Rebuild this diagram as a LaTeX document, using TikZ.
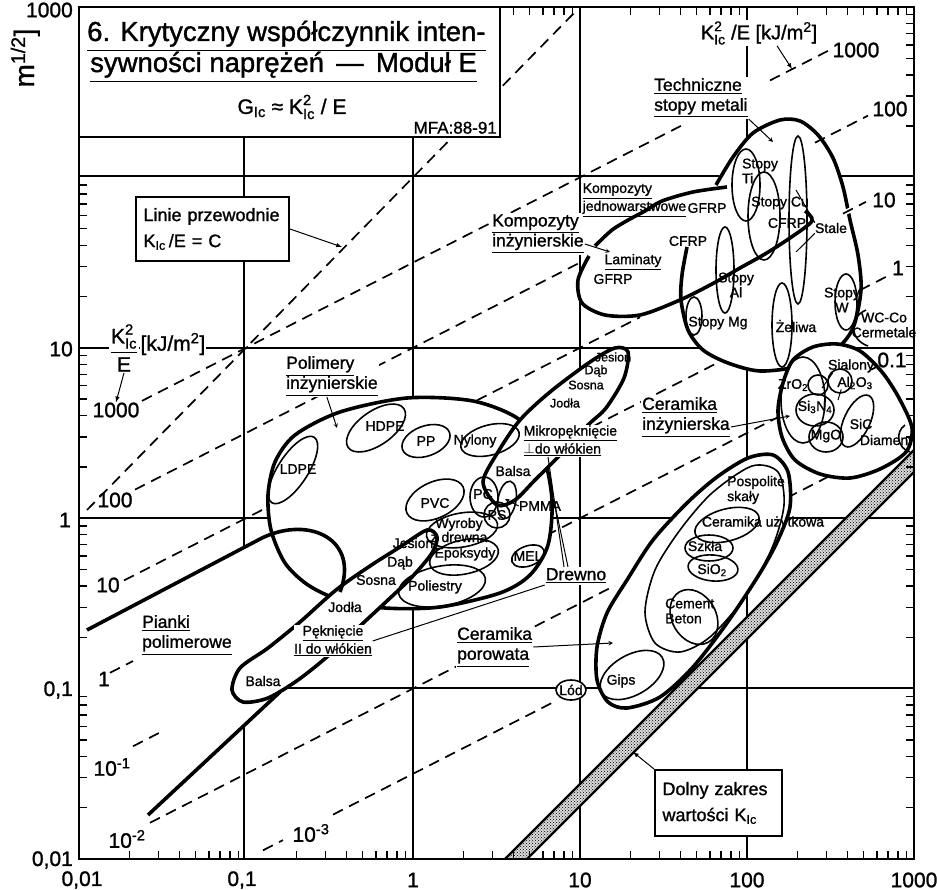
\documentclass[tikz,border=0pt]{standalone}
\usepackage{amsmath}
\usepackage{fontspec}
\setmainfont{Liberation Sans}[FakeBold=1.2]
\usetikzlibrary{positioning}
\usetikzlibrary{arrows}
\usetikzlibrary{patterns}

\newcommand{\Kic}{K\textsubscript{Ic}}
\newcommand{\Kicsq}{\ensuremath{\text{K}^{\text{2}}_{\text{Ic}}}}
% K^2/E = 10^c guide line between two x positions
\newcommand{\kline}[3]{\draw[guideline] ({#2},{688.6-85.2*(#1)-0.5102*((#2)-79)}) -- ({#3},{688.6-85.2*(#1)-0.5102*((#3)-79)});}

\begin{document}
\begin{tikzpicture}[x=1pt, y=-1pt,
gridline/.style={line width=1.5pt},
guideline/.style={line width=1.7pt, dash pattern=on 11pt off 7pt},
bubble/.style={line width=3.6pt, fill=white},
rim/.style={line width=3.6pt},
inner/.style={line width=1.6pt},
tickline/.style={line width=1.4pt},
leader/.style={line width=1pt},
catlabel/.style={font=\fontsize{17.5}{20}\selectfont, align=left, fill=white, inner sep=1pt},
matlabel/.style={font=\fontsize{14}{15}\selectfont, align=center, inner sep=0pt},
smalllabel/.style={font=\fontsize{12.5}{11}\selectfont, inner sep=0pt},
numlabel/.style={font=\fontsize{21}{22}\selectfont, inner sep=0pt},
boxlabel/.style={draw, line width=2pt, fill=white, font=\fontsize{18}{26}\selectfont, align=left},
]
\useasboundingbox (0,0) rectangle (937,890);

%Grid
\foreach \gx in {244,413,580,747} \draw[gridline] (\gx,7) -- (\gx,859);
\foreach \gy in {176,348,518,688} \draw[gridline] (79,\gy) -- (914,\gy);

%Guide lines
\draw[guideline] (87,510) -- (578,9);
\kline{3}{142}{683}
\kline{3}{770}{832}
\kline{2}{135}{580}
\kline{1}{124}{640}
\kline{0}{560}{718}
\kline{-1}{530}{777}
\kline{-2}{150}{615}
\kline{-2}{787}{835}
\kline{-3}{263}{283}
\kline{-3}{333}{555}

%Fields
\fill[white] (80,634) -- (262,538) .. controls (310,515) and (360,540) .. (340,592) -- (300,622) -- (265,650) -- (240,668) -- (232,690) -- (280,692) -- (148,815) -- (80,815) -- cycle;
\fill[white] plot[smooth cycle] coordinates {(589,256) (603,233) (633,217) (660,202) (693,192) (727,188) (750,205) (760,235) (740,268) (712,284) (680,300) (640,315) (605,315) (582,303) (578,280)};
\draw[bubble] plot[smooth cycle] coordinates {(268,495) (275,462) (295,435) (340,412) (407,398) (473,401) (520,420) (543,455) (552,500) (548,545) (530,575) (500,593) (440,607) (385,608) (340,600) (308,585) (285,563) (271,530)};
\draw[bubble] plot[smooth cycle] coordinates {(483,482) (498,452) (520,420) (550,392) (590,362) (615,348) (628,352) (624,378) (606,408) (588,425) (560,455) (535,480) (515,500) (497,505)};
\draw[bubble] plot[smooth cycle] coordinates {(232,690) (240,668) (268,648) (300,622) (336,590) (370,566) (400,547) (427,530) (437,537) (432,553) (412,577) (388,600) (360,626) (328,656) (298,680) (268,698) (243,702)};
\draw[rim] (87,630) -- (262,538) .. controls (310,515) and (360,540) .. (340,592);
\draw[rim] (148,815) -- (280,692);
\fill[white] plot[smooth cycle] coordinates {(715,183) (733,157) (753,133) (780,120) (800,121) (818,135) (833,158) (843,187) (850,220) (858,255) (861,290) (853,328) (835,350) (800,366) (760,371) (728,363) (703,350) (688,330) (681,300) (683,270) (692,230)};
\draw[rim] plot[smooth] coordinates {(687,247) (682,275) (681,300) (688,330) (703,350) (728,363) (760,371) (800,366) (835,350) (853,328) (861,290) (858,255) (850,220) (843,187) (833,158) (818,135) (800,121) (780,120) (753,133) (733,157) (716,185)};
\draw[rim] plot[smooth] coordinates {(595,246) (612,230) (630,219) (645,211) (662,201) (693,192) (727,187)};
\draw[rim] plot[smooth] coordinates {(589,256) (578,280) (582,303) (605,315) (640,315) (680,300) (712,284) (740,268) (765,254) (790,238) (812,221) (805,211)};
\draw[bubble] plot[smooth cycle] coordinates {(793,360) (813,347) (837,344) (860,351) (882,372) (899,398) (912,428) (906,452) (880,469) (850,478) (820,474) (795,460) (782,437) (778,410) (783,383)};
\draw[bubble] plot[smooth cycle] coordinates {(773,455) (788,472) (790,507) (778,540) (760,573) (727,623) (693,667) (660,697) (627,708) (608,702) (597,680) (597,647) (607,613) (627,580) (653,540) (687,503) (717,477) (748,458)};
\draw[inner] plot[smooth cycle] coordinates {(752,466) (778,472) (784,505) (772,548) (745,597) (710,637) (680,652) (655,643) (645,612) (655,570) (680,530) (712,493)};

%Polymers
\draw[inner, rotate around={57:(293,470)}] (293,470) ellipse [x radius=39, y radius=15];
\draw[inner, rotate around={35:(376,428)}] (376,428) ellipse [x radius=34, y radius=17];
\draw[inner, rotate around={20:(426,441)}] (426,441) ellipse [x radius=25, y radius=15];
\draw[inner, rotate around={15:(490,440)}] (490,440) ellipse [x radius=30, y radius=15];
\draw[inner, rotate around={25:(435,500)}] (435,500) ellipse [x radius=31, y radius=18];
\draw[inner] (484,497) ellipse [x radius=14, y radius=20];
\draw[inner, rotate around={-10:(507,500)}] (507,500) ellipse [x radius=9, y radius=19];
\draw[inner] (497,515) circle [radius=13];
\draw[inner, rotate around={10:(462,530)}] (462,530) ellipse [x radius=36, y radius=17];
\draw[inner, rotate around={12:(464,557)}] (464,557) ellipse [x radius=35, y radius=17];
\draw[inner, rotate around={10:(442,586)}] (442,586) ellipse [x radius=44, y radius=20];
\draw[inner, rotate around={20:(528,556)}] (528,556) ellipse [x radius=17, y radius=10];

%Metals
\draw[inner] (746,185) ellipse [x radius=14, y radius=36];
\draw[inner] (764,216) ellipse [x radius=16, y radius=44];
\draw[inner] (798,220) ellipse [x radius=9, y radius=84];
\draw[inner] (725,270) ellipse [x radius=9, y radius=43];
\draw[inner] (694,316) ellipse [x radius=8, y radius=19];
\draw[inner] (782,325) ellipse [x radius=10, y radius=42];
\draw[inner] (846,302) ellipse [x radius=11, y radius=28];
\draw[inner] (866,310) .. controls (848,318) and (850,340) .. (868,346);

%Ceramics
\draw[inner] (803,400) ellipse [x radius=22, y radius=43];
\draw[inner] (818,385) circle [radius=10];
\draw[inner] (840,381) circle [radius=12];
\draw[inner] (815,410) ellipse [x radius=19, y radius=16];
\draw[inner] (826,437) ellipse [x radius=17, y radius=15];
\draw[inner, rotate around={-25:(857,421)}] (857,421) ellipse [x radius=13, y radius=28];
\draw[inner] (905,425) .. controls (895,432) and (897,448) .. (910,452);
\draw[inner, rotate around={15:(727,525)}] (727,525) ellipse [x radius=33, y radius=16];
\draw[inner] (709,548) ellipse [x radius=24, y radius=13];
\draw[inner, rotate around={-5:(713,568)}] (713,568) ellipse [x radius=25, y radius=13];
\draw[inner, rotate around={30:(694,617)}] (694,617) ellipse [x radius=22, y radius=29];
\draw[inner, rotate around={30:(632,675)}] (632,675) ellipse [x radius=35, y radius=20];
\draw[inner, fill=white] (571,690) ellipse [x radius=15, y radius=10];

%Guide stubs
\kline{0}{110}{133}
\kline{-1}{133}{160}
\draw[white, line width=5pt] (843,213.6) -- (853,208.6);
\kline{1}{843}{866}
\kline{2}{815}{868}
\kline{0}{860}{888}
\kline{-1}{871}{878}

%Band
\fill[gray!30] (505,859) -- (914,450) -- (914,472) -- (527,859) -- cycle;
\fill[pattern=crosshatch dots] (505,859) -- (914,450) -- (914,472) -- (527,859) -- cycle;
\draw[line width=2.2pt] (505,859) -- (914,450);
\draw[line width=2.2pt] (527,859) -- (914,472);

%Frame and ticks
\draw[line width=2.4pt] (79,7) rectangle (914,859);
\foreach \k in {0,...,4}{\foreach \m in {2,...,9}{
  \pgfmathsetmacro{\tx}{79+167*(\k+log10(\m))}
  \pgfmathsetmacro{\ty}{859-170.4*(\k+log10(\m))}
  \draw[tickline] (\tx,859) -- (\tx,851);
  \draw[tickline] (\tx,7) -- (\tx,15);
  \draw[tickline] (79,\ty) -- (87,\ty);
  \draw[tickline] (914,\ty) -- (906,\ty);
}}

%Title
\draw[line width=2pt, fill=white] (79,7) rectangle (500,137);
\node[font=\fontsize{27.5}{31}\selectfont, anchor=base west, inner sep=0pt] (title1) at (87,41) {\underline{6. Krytyczny współczynnik inten-}};
\node[font=\fontsize{27.5}{31}\selectfont, anchor=base west, inner sep=0pt] (title2) at (90,72) {\underline{sywności naprężeń \,—\, Moduł E}};
\node[font=\fontsize{21}{24}\selectfont, inner sep=0pt] (gic) at (292,107) {G\textsubscript{Ic} ≈ \Kicsq\ / E};
\node[font=\fontsize{17}{20}\selectfont, anchor=south east, inner sep=1pt] (mfa) at (498,135) {MFA:88-91};

%Axis labels
\node[numlabel, anchor=east] (y1000) at (73,10) {1000};
\node[numlabel, anchor=east] (y10) at (73,349) {10};
\node[numlabel, anchor=east] (y1) at (71,520) {1};
\node[numlabel, anchor=east] (y01) at (73,690) {0,1};
\node[numlabel, anchor=east] (y001) at (73,860) {0,01};
\node[numlabel] (x001) at (82,880) {0,01};
\node[numlabel] (x01) at (242,880) {0,1};
\node[numlabel] (x1) at (413,880) {1};
\node[numlabel] (x10) at (580,880) {10};
\node[numlabel] (x100) at (747,880) {100};
\node[numlabel] (x1000) at (914,880) {1000};
\node[font=\fontsize{28}{30}\selectfont, rotate=90, anchor=base, inner sep=0pt] (yunit) at (34,58) {m\textsuperscript{1/2}]};

%Guide line labels
\node[numlabel] (l1000) at (116,410) {1000};
\node[numlabel] (l100) at (115,500) {100};
\node[numlabel] (l10) at (108,585) {10};
\node[numlabel] (l1) at (104,679) {1};
\node[numlabel] (lm1) at (112,767) {10\textsuperscript{-1}};
\node[numlabel] (lm2) at (127,839) {10\textsuperscript{-2}};
\node[numlabel] (lm3) at (311,833) {10\textsuperscript{-3}};
\node[numlabel] (r1000) at (856,50) {1000};
\node[numlabel] (r100) at (890,109) {100};
\node[numlabel] (r10) at (884,200) {10};
\node[numlabel] (r1) at (898,268) {1};
\node[numlabel] (r01) at (892,360) {0.1};
\node[font=\fontsize{21}{22}\selectfont, fill=white, inner sep=1pt] (kfrac) at (124,348) {$\dfrac{\text{K}^{\text{2}}_{\text{Ic}}}{\text{E}}$};
\node[font=\fontsize{21}{22}\selectfont, fill=white, inner sep=1pt, right=0pt of kfrac, yshift=4pt] (kunit) {[kJ/m\textsuperscript{2}]};
\node[font=\fontsize{20}{22}\selectfont, fill=white, inner sep=1pt] (ktop) at (759,33) {\Kicsq\ /E [kJ/m\textsuperscript{2}]};
\coordinate (ktip) at (792,69);
\draw[leader, -latex] (kfrac.south) -- (l1000.north);
\draw[leader, -latex] ([xshift=18pt]ktop.south) -- (ktip);

%Boxes
\node[boxlabel, minimum width=153pt, minimum height=64pt, text width=138pt] (linie) at (212.5,229) {Linie przewodnie\\\Kic\,/E = C};
\coordinate (linietip) at (342,247);
\draw[leader, -latex] (linie.east) -- (linietip);
\node[boxlabel, minimum width=127pt, minimum height=66pt, text width=112pt] (dolny) at (718.5,803) {Dolny zakres\\wartości \Kic};
\coordinate (dolnytip) at (633,752);
\draw[leader, -latex] (dolny.north west) -- (dolnytip);

%Category labels
\node[catlabel, anchor=west] (polylab) at (285,376) {\underline{Polimery}\\\underline{inżynierskie}};
\node[catlabel, anchor=west] (kompI) at (491,234) {\underline{Kompozyty}\\\underline{inżynierskie}};
\node[catlabel, anchor=west] (techlab) at (653,98) {\underline{Techniczne}\\\underline{stopy metali}};
\node[catlabel, anchor=west] (ceramI) at (641,417) {\underline{Ceramika}\\\underline{inżynierska}};
\node[catlabel, anchor=west] (ceramP) at (456,647) {\underline{Ceramika}\\\underline{porowata}};
\node[catlabel, anchor=west] (pianki) at (141,635) {\underline{Pianki}\\\underline{polimerowe}};
\node[catlabel] (drewno) at (576,576) {\underline{Drewno}};
\node[matlabel, font=\fontsize{14}{18}\selectfont, align=left, anchor=west, fill=white, inner sep=0.5pt] (mikro) at (523,441) {\underline{Mikropęknięcie}\\\underline{$\perp$do włókien}};
\node[matlabel, font=\fontsize{14}{18}\selectfont, fill=white, inner sep=0.5pt] (pekn) at (333,641) {\underline{Pęknięcie}\\\underline{II do włókien}};
\node[matlabel, font=\fontsize{14}{18}\selectfont, align=left, anchor=west, inner sep=0.5pt] (kompJ) at (582,200) {\underline{Kompozyty}\\\underline{jednowarstwowe}};

\coordinate (polytip) at (337,428);
\coordinate (kompItip) at (610,252);
\coordinate (techtip) at (773,142);
\coordinate (ceramItip) at (790,416);
\coordinate (ceramPtip) at (613,643);
\coordinate (mikrotip) at (548,457);
\coordinate (woodtip) at (555,505);
\draw[leader, -stealth] ([xshift=-5pt]polylab.south) -- (polytip);
\draw[leader, -stealth] ([yshift=-10pt]kompI.east) -- (kompItip);
\draw[leader, -stealth] (techlab.south east) -- (techtip);
\draw[leader, -stealth] ([yshift=-10pt]ceramI.east) -- (ceramItip);
\draw[leader, -stealth] (ceramP.east) -- (ceramPtip);
\draw[leader] ([xshift=-12pt]drewno.north) -- (mikrotip);
\draw[leader] ([xshift=-8pt]drewno.north) -- (woodtip);
\draw[leader] (pekn.east) -- (drewno.south west);

%Material labels
\node[matlabel] (ldpe) at (298,469) {LDPE};
\node[matlabel] (hdpe) at (385,426) {HDPE};
\node[matlabel] (pp) at (426,441) {PP};
\node[matlabel] (nylony) at (475,441) {Nylony};
\node[matlabel] (pvc) at (435,503) {PVC};
\node[matlabel] (pc) at (483,494) {PC};
\node[matlabel] (ps) at (497,515) {PS};
\node[matlabel] (pmma) at (540,506) {PMMA};
\coordinate (pmmatip) at (505,499);
\draw[leader, -stealth] (pmma.west) -- (pmmatip);
\node[matlabel] (balsaA) at (513,471) {Balsa};
\node[matlabel, font=\fontsize{14}{13}\selectfont] (wyroby) at (459,530) {Wyroby\\z drewna};
\node[matlabel] (epok) at (465,554) {Epoksydy};
\node[matlabel] (poli) at (435,587) {Poliestry};
\node[matlabel] (jesionB) at (413,543) {Jesion};
\node[matlabel] (dabB) at (400,563) {Dąb};
\node[matlabel] (sosnaB) at (376,580) {Sosna};
\node[matlabel] (jodlaB) at (345,607) {Jodła};
\node[matlabel] (mel) at (528,556) {MEL};
\node[smalllabel] (jesionA) at (613,357) {Jesion};
\node[smalllabel] (dabA) at (596,371) {Dąb};
\node[smalllabel] (sosnaA) at (586,385) {Sosna};
\node[smalllabel] (jodlaA) at (565,403) {Jodła};
\node[matlabel] (balsaB) at (263,681) {Balsa};

\node[matlabel] (gfrpJ) at (707,208) {GFRP};
\node[matlabel] (lamin) at (633,262) {\underline{Laminaty}};
\node[matlabel] (gfrpL) at (613,279) {GFRP};
\node[matlabel] (cfrpK) at (688,241) {CFRP};
\node[matlabel, align=left] (ti) at (760,171) {Stopy\\Ti\hphantom{opy}};
\node[matlabel] (cu) at (780,203) {Stopy Cu};
\node[matlabel] (cfrpM) at (787,223) {CFRP};
\node[matlabel] (stale) at (831,228) {Stale};
\coordinate (staletipA) at (796,190);
\coordinate (staletipB) at (796,252);
\draw[leader] (stale.north west) -- (staletipA);
\draw[leader] (stale.south west) -- (staletipB);
\node[matlabel] (al) at (736,285) {Stopy\\Al};
\node[matlabel] (mg) at (718,323) {Stopy Mg};
\node[matlabel] (zeliwa) at (796,326) {Żeliwa};
\node[matlabel] (w) at (842,300) {Stopy\\W};
\node[matlabel] (wcco) at (884,325) {WC-Co\\Cermetale};

\node[matlabel] (sialony) at (851,366) {Sialony};
\node[matlabel] (zro) at (793,385) {ZrO\textsubscript{2}};
\node[matlabel] (alo) at (855,383) {Al\textsubscript{2}O\textsubscript{3}};
\node[matlabel] (sin) at (815,407) {Si\textsubscript{3}N\textsubscript{4}};
\node[matlabel] (mgo) at (826,436) {MgO};
\node[matlabel] (sic) at (861,424) {SiC};
\node[matlabel] (diament) at (886,440) {Diament};
\coordinate (sialonytip) at (822,388);
\coordinate (alotip) at (838,400);
\draw[leader] ([xshift=5pt]sialony.south west) -- (sialonytip);
\draw[leader] ([xshift=4pt]alo.south west) -- (alotip);

\node[matlabel, align=left, anchor=west] (skaly) at (727,490) {Pospolite\\skały};
\node[matlabel] (uzytk) at (763,523) {Ceramika użytkowa};
\node[matlabel] (szkla) at (705,546) {Szkła};
\node[matlabel] (sio) at (712,570) {SiO\textsubscript{2}};
\node[matlabel, align=left, anchor=west] (cement) at (665,611) {Cement\\Beton};
\node[matlabel] (gips) at (621,681) {Gips};
\node[matlabel] (lod) at (571,690) {Lód};
\end{tikzpicture}
\end{document}
